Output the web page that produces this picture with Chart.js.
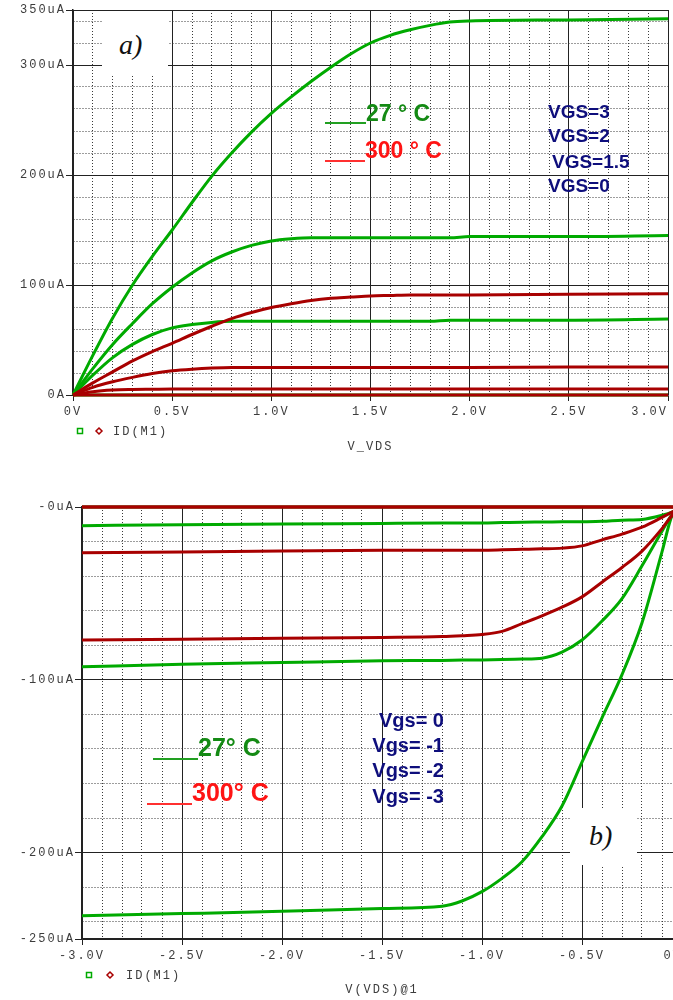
<!DOCTYPE html>
<html>
<head>
<meta charset="utf-8">
<script src="https://cdn.jsdelivr.net/npm/chart.js@4.4.1/dist/chart.umd.min.js"></script>
<style>
  html, body { margin: 0; padding: 0; background: #fff; overflow: hidden; width: 673px; height: 1000px; }
  .panel { position: absolute; left: 0; }
  #panelA { top: 0; }
  #panelB { top: 490px; }
  .note { position: absolute; white-space: nowrap; font-family: "Liberation Sans", Arial, sans-serif; font-weight: bold; line-height: 1; }
  .navy { color: #0e0e7c; font-size: 19px; }
  .navyB { color: #0e0e7c; font-size: 20px; width: 100px; text-align: right; }
  .temp27 { color: #148a14; }
  .temp300 { color: #ff1414; }
  .rule { position: absolute; height: 2px; }
  .box { position: absolute; background: #fff; }
  .tag { position: absolute; font-family: "Liberation Serif", "Times New Roman", serif; font-style: italic; font-size: 28px; line-height: 1; color: #111; }
</style>
</head>
<body>
<div class="panel" id="panelA"><canvas id="chartA" width="673" height="460"></canvas></div>
<div class="panel" id="panelB"><canvas id="chartB" width="700" height="510"></canvas></div>

<!-- panel a) notes -->
<div class="box" style="left:102px; top:11px; width:66px; height:64px;"></div>
<div class="tag" style="left:119px; top:31px;">a)</div>
<div class="rule" style="left:325px; top:122px; width:41px; background:#22a022;"></div>
<div class="rule" style="left:325px; top:160px; width:40px; background:#ff3030;"></div>
<div class="note temp27" style="left:366px; top:102px; font-size:23px;">27 ° C</div>
<div class="note temp300" style="left:365px; top:139px; font-size:23px;">300 ° C</div>
<div class="note navy" style="left:548px; top:102px;">VGS=3</div>
<div class="note navy" style="left:548px; top:126px;">VGS=2</div>
<div class="note navy" style="left:552px; top:152px;">VGS=1.5</div>
<div class="note navy" style="left:548px; top:176px;">VGS=0</div>

<!-- panel b) notes -->
<div class="box" style="left:570px; top:808px; width:67px; height:57px;"></div>
<div class="tag" style="left:589px; top:822px;">b)</div>
<div class="rule" style="left:153px; top:758px; width:45px; background:#22a022;"></div>
<div class="rule" style="left:147px; top:803px; width:45px; background:#ff3030;"></div>
<div class="note temp27" style="left:198px; top:735px; font-size:25px;">27° C</div>
<div class="note temp300" style="left:192px; top:780px; font-size:25px;">300° C</div>
<div class="note navyB" style="left:344px; top:710px;">Vgs= 0</div>
<div class="note navyB" style="left:344px; top:735px;">Vgs= -1</div>
<div class="note navyB" style="left:344px; top:760px;">Vgs= -2</div>
<div class="note navyB" style="left:344px; top:786px;">Vgs= -3</div>

<script>
// ---------- panel a) data : ID vs VDS, VDS 0..3 V, uA ----------
const vdsA = [0, 0.1, 0.2, 0.3, 0.4, 0.5, 0.6, 0.7, 0.8, 0.9, 1.0, 1.1, 1.2, 1.3, 1.4, 1.5, 1.6, 1.7, 1.8, 1.9, 2.0, 2.5, 3.0];
const idA27_vgs3  = [0, 36, 70, 100, 126, 150, 175, 199, 220, 239, 256, 271, 285, 298, 310, 320, 327, 332, 336, 339, 340, 341, 342];
const idA27_vgs2  = [0, 24, 46, 65, 83, 98, 111, 122, 130, 136, 140, 142, 143, 143, 143, 143, 143, 143, 143, 143, 144, 144, 145];
const idA27_vgs15 = [0, 18, 34, 46, 55, 61, 64, 66, 67, 67, 67, 67, 67, 67, 67, 67, 67, 67, 67, 68, 68, 68, 69];
const idA27_vgs0  = [0, 0, 0, 0, 0, 0, 0, 0, 0, 0, 0, 0, 0, 0, 0, 0, 0, 0, 0, 0, 0, 0, 0];
const idA300_vgs3  = [0, 11, 21, 31, 39.5, 47, 55, 62.5, 69.5, 75, 79.5, 83, 86, 88, 89, 90, 90.5, 91, 91, 91, 91, 91.5, 92];
const idA300_vgs2  = [0, 7, 12, 16, 19.5, 22, 23.5, 24.5, 25, 25, 25, 25, 25, 25, 25, 25, 25, 25, 25, 25, 25, 25.5, 25.5];
const idA300_vgs15 = [0, 3, 4.5, 5, 5.2, 5.4, 5.5, 5.5, 5.5, 5.5, 5.5, 5.5, 5.5, 5.5, 5.5, 5.5, 5.5, 5.5, 5.5, 5.5, 5.5, 5.5, 5.5];
const idA300_vgs0  = [0, 0, 0, 0, 0, 0, 0, 0, 0, 0, 0, 0, 0, 0, 0, 0, 0, 0, 0, 0, 0, 0, 0];

const xTicksA = [0, 0.5, 1.0, 1.5, 2.0, 2.5, 3.0];
const xLabelsA = ["0V", "0.5V", "1.0V", "1.5V", "2.0V", "2.5V", "3.0V"];
const yTicksA = [0, 100, 200, 300, 350];
const yLabelsA = ["0A", "100uA", "200uA", "300uA", "350uA"];

// ---------- panel b) data : ID vs VDS, VDS -3..0 V, uA ----------
const vdsB = [-3.0, -2.5, -2.0, -1.5, -1.2, -1.1, -1.0, -0.9, -0.8, -0.7, -0.6, -0.5, -0.4, -0.3, -0.2, -0.1, -0.05, 0];
const idB27_vgs3 = [-236.5, -235.3, -234, -232.3, -231, -228, -222.6, -214.9, -205.3, -190.8, -173, -147.6, -122, -97, -67, -26, -5, 0];
const idB27_vgs2 = [-92.5, -91, -90, -89, -88.8, -88.6, -88.5, -88.3, -88, -87.5, -84, -77, -66, -53, -34, -14, -4.5, 0];
const idB27_vgs1 = [-10.8, -10.2, -9.8, -9.5, -9.3, -9.2, -9.2, -9, -8.8, -8.7, -8.6, -8.5, -8.3, -7.6, -7.2, -4.8, -3, 0];
const idB27_vgs0 = [0, 0, 0, 0, 0, 0, 0, 0, 0, 0, 0, 0, 0, 0, 0, 0, 0, 0];
const idB300_vgs3 = [-77, -76.5, -76, -75.5, -75, -74.5, -73.8, -72, -67.5, -63, -58, -52, -43.5, -35, -25.5, -12.5, -5, 0];
const idB300_vgs2 = [-26.5, -26, -25.5, -25, -25, -25, -25, -24.8, -24.5, -24.2, -23.8, -22.5, -19, -15.7, -11.7, -6, -3, 0];
const idB300_vgs1 = [0, 0, 0, 0, 0, 0, 0, 0, 0, 0, 0, 0, 0, 0, 0, 0, 0, 0];
const idB300_vgs0 = [0, 0, 0, 0, 0, 0, 0, 0, 0, 0, 0, 0, 0, 0, 0, 0, 0, 0];

const xTicksB = [-3.0, -2.5, -2.0, -1.5, -1.0, -0.5, 0];
const xLabelsB = ["-3.0V", "-2.5V", "-2.0V", "-1.5V", "-1.0V", "-0.5V", "0V"];
const yTicksB = [-250, -200, -100, 0];
const yLabelsB = ["-250uA", "-200uA", "-100uA", "-0uA"];

const probeName = "ID(M1)";

const GREEN = "#00aa00";
const RED = "#a80000";
const TICK_COLOR = "#3c3c3c";
const MONO = '"Liberation Mono", "DejaVu Sans Mono", monospace';

// minor grid = every step between the labelled ticks
function gridValues(min, max, step, majors) {
  const vals = [];
  const i0 = Math.ceil(min / step - 1e-9), i1 = Math.floor(max / step + 1e-9);
  for (let i = i0; i <= i1; i++) vals.push(+(i * step).toFixed(4));
  majors.forEach(m => { if (!vals.some(v => Math.abs(v - m) < 1e-6)) vals.push(m); });
  return vals.sort((a, b) => a - b);
}
const isMajor = (v, majors) => majors.some(m => Math.abs(m - v) < 1e-6);

function labelFor(v, ticks, labels, lastPad) {
  const i = ticks.findIndex(t => Math.abs(t - v) < 1e-6);
  if (i < 0) return "";
  return i === ticks.length - 1 ? labels[i] + " ".repeat(lastPad) : labels[i];
}

function series(xs, ys, color) {
  return {
    data: xs.map((x, i) => ({ x: x, y: ys[i] })),
    borderColor: color,
    borderWidth: 3,
    pointRadius: 0,
    fill: false,
    cubicInterpolationMode: "monotone",
    clip: false,
  };
}

function axis(min, max, minor, majors, labels, o) {
  return {
    type: "linear",
    min: min,
    max: max,
    afterBuildTicks: s => { s.ticks = gridValues(min, max, minor, majors).map(v => ({ value: v })); },
    afterFit: s => {
      if (o.height) s.height = o.height;
      if (o.width) s.width = o.width;
      s.paddingLeft = 0; s.paddingRight = 0; s.paddingTop = 0; s.paddingBottom = 0;
    },
    ticks: {
      autoSkip: false, maxRotation: 0, minRotation: 0,
      padding: o.pad, color: TICK_COLOR, font: { family: MONO, size: 12 },
      callback: v => labelFor(v, majors, labels, o.lastPad || 0),
    },
    grid: {
      color: c => (c.tick && isMajor(c.tick.value, majors)) ? "#222" : "#3a3a3a",
      lineWidth: 1,
      drawTicks: true,
      tickLength: o.tickLen,
      tickColor: c => (c.tick && isMajor(c.tick.value, majors)) ? "#222" : "rgba(0,0,0,0)",
    },
    border: {
      display: true, color: "#222", width: 1.5,
      dash: c => (c.tick && !isMajor(c.tick.value, majors)) ? [1, 2] : [],
    },
    title: o.title ? {
      display: true, text: o.title, color: TICK_COLOR,
      font: { family: MONO, size: 12 }, padding: { top: 0, bottom: o.titlePad },
    } : { display: false },
  };
}

const spacedText = {
  id: "spacedText",
  beforeDraw(chart) { chart.ctx.letterSpacing = "2px"; },
};

const probeLegend = {
  id: "probeLegend",
  afterDraw(chart, args, o) {
    const ctx = chart.ctx, L = chart.chartArea.left, y = o.y;
    ctx.save();
    ctx.lineWidth = 1.5;
    ctx.strokeStyle = GREEN;
    ctx.strokeRect(L + o.sq - 2.5, y - 2.5, 5, 5);
    ctx.strokeStyle = RED;
    const dx = L + o.dia;
    ctx.beginPath();
    ctx.moveTo(dx, y - 3); ctx.lineTo(dx + 3, y); ctx.lineTo(dx, y + 3); ctx.lineTo(dx - 3, y);
    ctx.closePath();
    ctx.stroke();
    ctx.fillStyle = TICK_COLOR;
    ctx.font = "12px " + MONO;
    ctx.textAlign = "left";
    ctx.textBaseline = "middle";
    ctx.fillText(probeName, L + o.txt, y + 1);
    ctx.restore();
  },
};

// Chart a)
new Chart(document.getElementById("chartA"), {
  type: "line",
  data: {
    datasets: [
      series(vdsA, idA300_vgs3, RED),
      series(vdsA, idA300_vgs2, RED),
      series(vdsA, idA300_vgs15, RED),
      series(vdsA, idA300_vgs0, RED),
      series(vdsA, idA27_vgs3, GREEN),
      series(vdsA, idA27_vgs2, GREEN),
      series(vdsA, idA27_vgs15, GREEN),
      series(vdsA, idA27_vgs0, GREEN),
    ],
  },
  options: {
    responsive: false,
    animation: false,
    layout: { padding: { top: 10, right: 5, left: 0, bottom: 0 } },
    scales: {
      x: axis(0, 3, 0.1, xTicksA, xLabelsA, { height: 65, pad: 4, tickLen: 6, lastPad: 4, title: "V_VDS", titlePad: 6 }),
      y: axis(0, 350, 20, yTicksA, yLabelsA, { width: 73, pad: 0, tickLen: 7 }),
    },
    plugins: {
      legend: { display: false },
      tooltip: { enabled: false },
      probeLegend: { y: 431, sq: 7, dia: 26, txt: 40 },
    },
  },
  plugins: [spacedText, probeLegend],
});

// Chart b)
new Chart(document.getElementById("chartB"), {
  type: "line",
  data: {
    datasets: [
      series(vdsB, idB300_vgs3, RED),
      series(vdsB, idB300_vgs2, RED),
      series(vdsB, idB300_vgs1, RED),
      series(vdsB, idB300_vgs0, RED),
      series(vdsB, idB27_vgs3, GREEN),
      series(vdsB, idB27_vgs2, GREEN),
      series(vdsB, idB27_vgs1, GREEN),
      series(vdsB, idB27_vgs0, GREEN),
    ],
  },
  options: {
    responsive: false,
    animation: false,
    layout: { padding: { top: 17, right: 18, left: 0, bottom: 0 } },
    scales: {
      x: axis(-3, 0, 0.1, xTicksB, xLabelsB, { height: 61, pad: 4, tickLen: 6, lastPad: 2, title: "V(VDS)@1", titlePad: 3 }),
      y: axis(-250, 0, 20, yTicksB, yLabelsB, { width: 82, pad: 0, tickLen: 7 }),
    },
    plugins: {
      legend: { display: false },
      tooltip: { enabled: false },
      probeLegend: { y: 485, sq: 7, dia: 28, txt: 44 },
    },
  },
  plugins: [spacedText, probeLegend],
});
</script>
</body>
</html>
